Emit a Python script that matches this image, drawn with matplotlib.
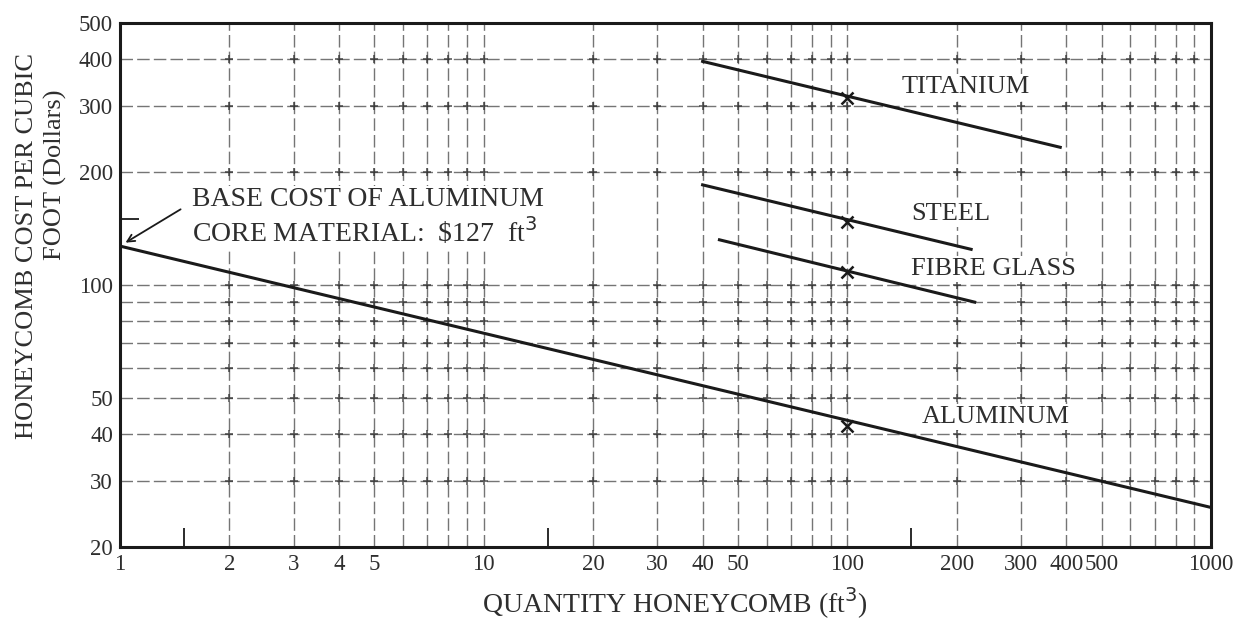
import matplotlib
matplotlib.use("Agg")
import matplotlib.pyplot as plt
from matplotlib.ticker import FixedLocator, NullFormatter

plt.rcParams['font.family'] = ['Liberation Serif', 'DejaVu Serif']

# ---- data ----
alum_x = [1, 1000]
alum_y = [127, 25.5]
tita_x = [40, 385]
tita_y = [395, 233]
steel_x = [40, 219]
steel_y = [185, 124.5]
fibre_x = [44.5, 224]
fibre_y = [132, 90]
marker_x = [100, 100, 100, 100]
marker_y = [316, 147, 108.4, 42]

x_ticks = [1, 2, 3, 4, 5, 10, 20, 30, 40, 50, 100, 200, 300, 400, 500, 1000]
y_ticks = [20, 30, 40, 50, 100, 200, 300, 400, 500]
x_grid = [2, 3, 4, 5, 6, 7, 8, 9, 10, 20, 30, 40, 50, 60, 70, 80, 90, 100,
          200, 300, 400, 500, 600, 700, 800, 900]
y_grid = [30, 40, 50, 60, 70, 80, 90, 100, 200, 300, 400]

labels = ["TITANIUM", "STEEL", "FIBRE GLASS", "ALUMINUM"]
label_x = [141, 150, 150, 160]
label_y = [337, 155, 110.5, 44.5]

ink = '#1a1a1a'
txt = '#2e2e2e'

fig = plt.figure(figsize=(12.41, 6.2), dpi=100)
ax = fig.add_axes([120 / 1241, 73 / 620, 1091 / 1241, 524 / 620])
ax.set_xscale('log')
ax.set_yscale('log')
ax.set_xlim(1, 1000)
ax.set_ylim(20, 500)

for gx in x_grid:
    ax.axvline(gx, color='#3a3a3a', lw=1.0, ls=(0, (9, 3)), alpha=0.7, zorder=1)
for gy in y_grid:
    ax.axhline(gy, color='#3a3a3a', lw=1.0, ls=(0, (9, 3)), alpha=0.7, zorder=1)
# small crosses at grid intersections, as on the printed graph paper
gxx = [gx for gx in x_grid for gy in y_grid]
gyy = [gy for gx in x_grid for gy in y_grid]
ax.plot(gxx, gyy, ls='none', marker='+', ms=6, mew=1.2, color='#333333', alpha=0.8, zorder=1)

ax.plot(alum_x, alum_y, color=ink, lw=2.2, zorder=3)
ax.plot(tita_x, tita_y, color=ink, lw=2.2, zorder=3)
ax.plot(steel_x, steel_y, color=ink, lw=2.2, zorder=3)
ax.plot(fibre_x, fibre_y, color=ink, lw=2.2, zorder=3)
ax.plot(marker_x, marker_y, ls='none', marker='x', ms=9, mew=1.8, color=ink, zorder=4)

box = dict(facecolor='white', edgecolor='none', pad=1.5)
for lab, lx, ly in zip(labels, label_x, label_y):
    ax.text(lx, ly, lab, ha='left', va='center', fontsize=19, color=txt, bbox=box, zorder=2)

ax.text(1.578, 168.6, "BASE COST OF ALUMINUM", ha='left', va='center',
        fontsize=20, color=txt, bbox=box, zorder=2)
ax.text(1.578, 138.5, r"CORE MATERIAL:  \$127  ft$^3$", ha='left', va='center',
        fontsize=20, color=txt, bbox=box, zorder=2)
ax.annotate("", xy=(1.02, 128.6), xytext=(1.49, 160.6),
            arrowprops=dict(arrowstyle='->', color=ink, lw=1.3, mutation_scale=13), zorder=5)

ax.xaxis.set_major_locator(FixedLocator(x_ticks))
ax.xaxis.set_minor_locator(FixedLocator([1.5, 15, 150]))
ax.xaxis.set_minor_formatter(NullFormatter())
ax.set_xticklabels([str(v) for v in x_ticks])
ax.yaxis.set_major_locator(FixedLocator(y_ticks))
ax.yaxis.set_minor_locator(FixedLocator([150]))
ax.yaxis.set_minor_formatter(NullFormatter())
ax.set_yticklabels([str(v) for v in y_ticks])
ax.tick_params(axis='both', which='major', length=0, labelsize=16.5, labelcolor=txt, pad=5)
ax.tick_params(axis='both', which='minor', direction='in', length=14, width=1.3, color=ink)

for s in ax.spines.values():
    s.set_linewidth(2.2)
    s.set_color(ink)
ax.set_axisbelow(False)

fig.text(675 / 1241, 1 - 603 / 620, "QUANTITY HONEYCOMB (ft$^3$)", ha='center', va='center',
         fontsize=20, color=txt)
fig.text(27 / 1241, 1 - 246 / 620, "HONEYCOMB COST PER CUBIC", rotation=90,
         ha='center', va='center', fontsize=19, color=txt)
fig.text(55 / 1241, 1 - 175 / 620, "FOOT (Dollars)", rotation=90,
         ha='center', va='center', fontsize=19, color=txt)

fig.savefig("out.png", dpi=100)
